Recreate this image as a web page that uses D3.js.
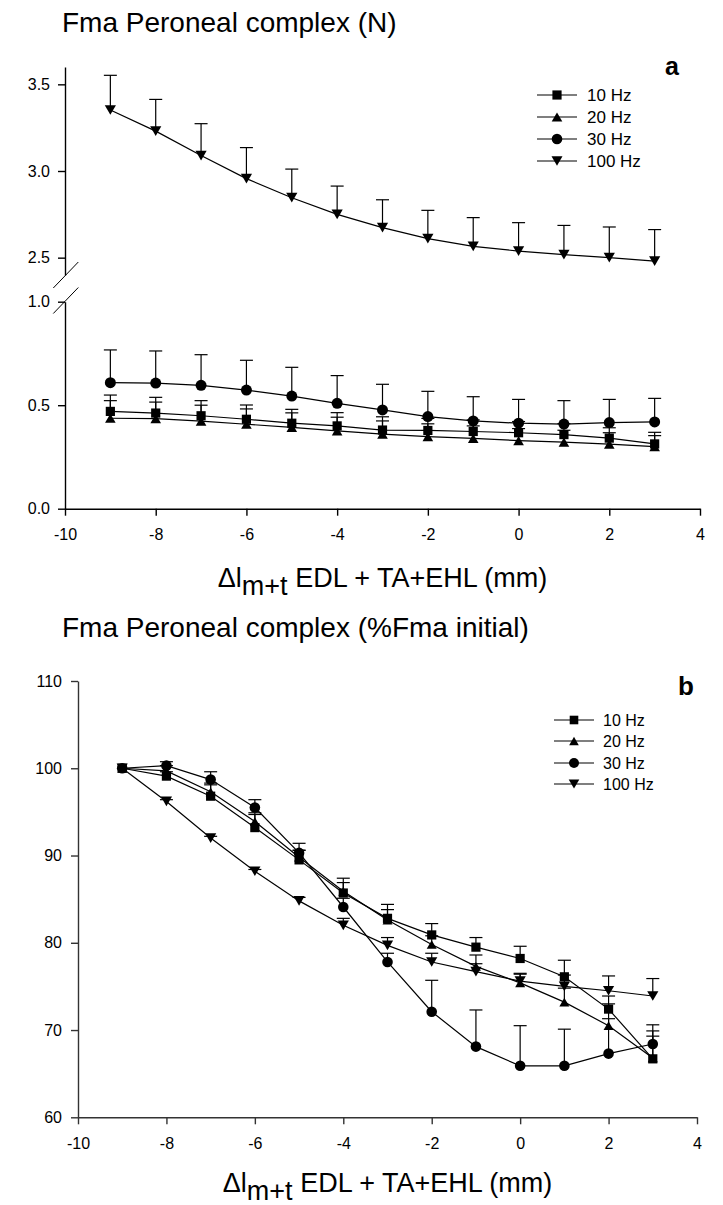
<!DOCTYPE html>
<html>
<head>
<meta charset="utf-8">
<script src="https://cdn.jsdelivr.net/npm/d3@7"></script>
<style>
  body { margin: 0; background: #fff; }
  svg { display: block; }
  text { font-family: "Liberation Sans", Arial, sans-serif; fill: #000; }
</style>
</head>
<body>
<svg id="chart" width="723" height="1205"></svg>
<script>
// Muscle-tendon length change of EDL + TA + EHL (mm)
const lengthChange = [-9, -8, -7, -6, -5, -4, -3, -2, -1, 0, 1, 2, 3];
const xTicks = [-10, -8, -6, -4, -2, 0, 2, 4];
const seriesNames = ["10 Hz", "20 Hz", "30 Hz", "100 Hz"];
const seriesSymbols = ["square", "triangleUp", "circle", "triangleDown"];

// Panel a: peroneal complex force (N), mean and SD
const forceN10  = [0.470, 0.462, 0.449, 0.432, 0.413, 0.400, 0.380, 0.378, 0.373, 0.367, 0.358, 0.341, 0.313];
const sdN10     = [0.079, 0.076, 0.073, 0.069, 0.067, 0.064, 0.064, 0.058, 0.056, 0.054, 0.053, 0.050, 0.056];
const forceN20  = [0.437, 0.435, 0.423, 0.408, 0.393, 0.376, 0.360, 0.348, 0.340, 0.329, 0.322, 0.312, 0.300];
const sdN20     = [0.085, 0.080, 0.077, 0.074, 0.070, 0.066, 0.064, 0.062, 0.060, 0.058, 0.057, 0.055, 0.053];
const forceN30  = [0.609, 0.607, 0.596, 0.573, 0.544, 0.509, 0.477, 0.445, 0.424, 0.413, 0.409, 0.416, 0.419];
const sdN30     = [0.158, 0.155, 0.148, 0.144, 0.139, 0.134, 0.124, 0.122, 0.117, 0.115, 0.113, 0.112, 0.114];
const forceN100 = [3.352, 3.230, 3.089, 2.956, 2.846, 2.750, 2.673, 2.610, 2.565, 2.538, 2.517, 2.500, 2.480];
const sdN100    = [0.200, 0.183, 0.184, 0.179, 0.165, 0.163, 0.161, 0.163, 0.166, 0.164, 0.169, 0.177, 0.182];
const yTicksLow  = [0.0, 0.5, 1.0];
const yTicksHigh = [2.5, 3.0, 3.5];

// Panel b: force as % of initial force, mean and SD
const pct10  = [100, 99.1, 96.8, 93.2, 89.5, 85.7, 82.8, 80.9, 79.5, 78.2, 76.1, 72.4, 66.7];
const sdPct10  = [0, 0.5, 1.3, 1.5, 1.1, 1.2, 1.6, 1.3, 1.1, 1.4, 1.9, 1.5, 3.9];
const pct20  = [100, 99.7, 97.3, 93.9, 89.8, 85.9, 82.6, 79.8, 77.3, 75.4, 73.2, 70.5, 66.8];
const sdPct20  = [0, 0.6, 1.0, 1.0, 0.8, 1.5, 1.2, 1.0, 1.3, 1.0, 1.6, 2.5, 2.5];
const pct30  = [100, 100.3, 98.7, 95.5, 90.3, 84.1, 77.8, 72.1, 68.1, 65.9, 65.9, 67.3, 68.4];
const sdPct30  = [0, 0.45, 0.9, 0.9, 1.1, 1.0, 1.0, 3.6, 4.2, 4.6, 4.2, 4.0, 1.5];
const pct100 = [100, 96.2, 92.0, 88.2, 84.8, 82.0, 79.7, 77.8, 76.7, 75.6, 75.0, 74.5, 73.9];
const sdPct100 = [0, 0.2, 0.2, 0.2, 0.4, 0.8, 0.9, 1.0, 0.9, 0.9, 1.3, 1.7, 2.0];
const yTicksPct = [60, 70, 80, 90, 100, 110];

const svg = d3.select("#chart");

// Marker shapes centred on the data point; s = half width
function markerPath(type, s) {
  const h = s * 1.732;
  switch (type) {
    case "square": return `M${-s},${-s}H${s}V${s}H${-s}Z`;
    case "circle": return d3.symbol(d3.symbolCircle, Math.PI * s * s)();
    case "triangleUp": return `M0,${-h / 2}L${s},${h / 2}L${-s},${h / 2}Z`;
    case "triangleDown": return `M0,${h / 2}L${s},${-h / 2}L${-s},${-h / 2}Z`;
  }
}

function styleAxis(g, color) {
  g.select(".domain").attr("stroke", color).attr("stroke-width", 1.4);
  g.selectAll(".tick line").attr("stroke", color).attr("stroke-width", 1.4);
  g.selectAll(".tick text").attr("fill", "#000").style("font-size", "16px")
    .attr("font-family", null);
  g.attr("font-family", null).attr("font-size", null);
}

function drawSeries(g, x, y, values, sds, symbol, markerSize) {
  const line = d3.line().x((d, i) => x(lengthChange[i])).y(d => y(d));
  g.append("path").datum(values).attr("d", line)
    .attr("fill", "none").attr("stroke", "#000").attr("stroke-width", 1.2);
  const bars = g.append("g");
  values.forEach((v, i) => {
    if (sds[i] <= 0) return;
    const cx = x(lengthChange[i]);
    const yTop = y(v + sds[i]);
    bars.append("line").attr("x1", cx).attr("x2", cx).attr("y1", y(v)).attr("y2", yTop)
      .attr("stroke", "#000").attr("stroke-width", 1.2);
    bars.append("line").attr("x1", cx - 6.5).attr("x2", cx + 6.5).attr("y1", yTop).attr("y2", yTop)
      .attr("stroke", "#000").attr("stroke-width", 1.2);
  });
  g.append("g").selectAll("path").data(values).join("path")
    .attr("d", markerPath(symbol, markerSize))
    .attr("transform", (d, i) => `translate(${x(lengthChange[i])},${y(d)})`)
    .attr("fill", "#000");
}

function drawLegend(g, cx, rows, textX, fontSize, sizes) {
  seriesNames.forEach((name, i) => {
    const yy = rows[i];
    g.append("line").attr("x1", cx - 20).attr("x2", cx + 20).attr("y1", yy).attr("y2", yy)
      .attr("stroke", "#000").attr("stroke-width", 1.2);
    g.append("path").attr("d", markerPath(seriesSymbols[i], sizes[i]))
      .attr("transform", `translate(${cx},${yy})`).attr("fill", "#000");
    g.append("text").attr("x", textX).attr("y", yy).attr("dy", "0.36em")
      .style("font-size", fontSize + "px").text(name);
  });
}

function axisTitle(g, cx, baseline) {
  const t = g.append("text").attr("x", cx).attr("y", baseline)
    .attr("text-anchor", "middle").style("font-size", "27px");
  t.append("tspan").text("\u0394l");
  t.append("tspan").attr("dy", 8).text("m+t");
  t.append("tspan").attr("dy", -8).text(" EDL + TA+EHL (mm)");
}

// ---------- Panel a ----------
const xA = d3.scaleLinear().domain([-10, 4]).range([65, 700]);
const yHigh = d3.scaleLinear().domain([2.4, 3.6]).range([275, 67]);
const yLow = d3.scaleLinear().domain([0, 1]).range([508.7, 301.7]);

const gA = svg.append("g");
gA.append("text").attr("x", 62).attr("y", 32).style("font-size", "28px")
  .text("Fma Peroneal complex (N)");
gA.append("text").attr("x", 665).attr("y", 75).style("font-size", "25px")
  .style("font-weight", "bold").text("a");

gA.append("g").attr("transform", `translate(0,${yLow(0)})`)
  .call(d3.axisBottom(xA).tickValues(xTicks).tickFormat(d => String(d))
    .tickSize(7).tickSizeOuter(0).tickPadding(13))
  .call(g => styleAxis(g, "#000"));
gA.append("g").attr("transform", `translate(${xA(-10)},0)`)
  .call(d3.axisLeft(yLow).tickValues(yTicksLow).tickFormat(d3.format(".1f"))
    .tickSize(7).tickSizeOuter(0).tickPadding(8))
  .call(g => styleAxis(g, "#000"));
gA.append("g").attr("transform", `translate(${xA(-10)},0)`)
  .call(d3.axisLeft(yHigh).tickValues(yTicksHigh).tickFormat(d3.format(".1f"))
    .tickSize(7).tickSizeOuter(0).tickPadding(8))
  .call(g => styleAxis(g, "#000"));

// Axis break marks between the two y ranges
const axisX = xA(-10) + 0.8;
[yHigh(2.4), yLow(1.0) - 1.2].forEach(cy => {
  gA.append("line").attr("x1", axisX - 12.5).attr("y1", cy + 13)
    .attr("x2", axisX + 12.5).attr("y2", cy - 13)
    .attr("stroke", "#000").attr("stroke-width", 1);
});

drawSeries(gA, xA, yLow, forceN20, sdN20, "triangleUp", 5.3);
drawSeries(gA, xA, yLow, forceN10, sdN10, "square", 4.6);
drawSeries(gA, xA, yLow, forceN30, sdN30, "circle", 5.5);
drawSeries(gA, xA, yHigh, forceN100, sdN100, "triangleDown", 5.6);

drawLegend(gA, 557, [95, 117, 139, 161], 587, 17, [4.6, 5.3, 5.3, 5.5]);
axisTitle(gA, (xA(-10) + xA(4)) / 2, 587);

// ---------- Panel b ----------
const xB = d3.scaleLinear().domain([-10, 4]).range([78, 697]);
const yB = d3.scaleLinear().domain([60, 110]).range([1117.3, 681]);

const gB = svg.append("g");
gB.append("text").attr("x", 62).attr("y", 637).style("font-size", "28px")
  .text("Fma Peroneal complex (%Fma initial)");
gB.append("text").attr("x", 678).attr("y", 695).style("font-size", "26px")
  .style("font-weight", "bold").text("b");

gB.append("g").attr("transform", `translate(0,${yB(60)})`)
  .call(d3.axisBottom(xB).tickValues(xTicks).tickFormat(d => String(d))
    .tickSize(7).tickSizeOuter(0).tickPadding(13))
  .call(g => styleAxis(g, "#333"));
gB.append("g").attr("transform", `translate(${xB(-10)},0)`)
  .call(d3.axisLeft(yB).tickValues(yTicksPct).tickFormat(d => String(d))
    .tickSize(7).tickSizeOuter(0).tickPadding(9))
  .call(g => styleAxis(g, "#333"));

drawSeries(gB, xB, yB, pct100, sdPct100, "triangleDown", 5.6);
drawSeries(gB, xB, yB, pct20, sdPct20, "triangleUp", 5.0);
drawSeries(gB, xB, yB, pct10, sdPct10, "square", 4.6);
drawSeries(gB, xB, yB, pct30, sdPct30, "circle", 5.3);

drawLegend(gB, 574, [720, 741, 763, 784], 603, 16, [4.3, 4.8, 5.0, 5.3]);
axisTitle(gB, (xB(-10) + xB(4)) / 2, 1192);
</script>
</body>
</html>
